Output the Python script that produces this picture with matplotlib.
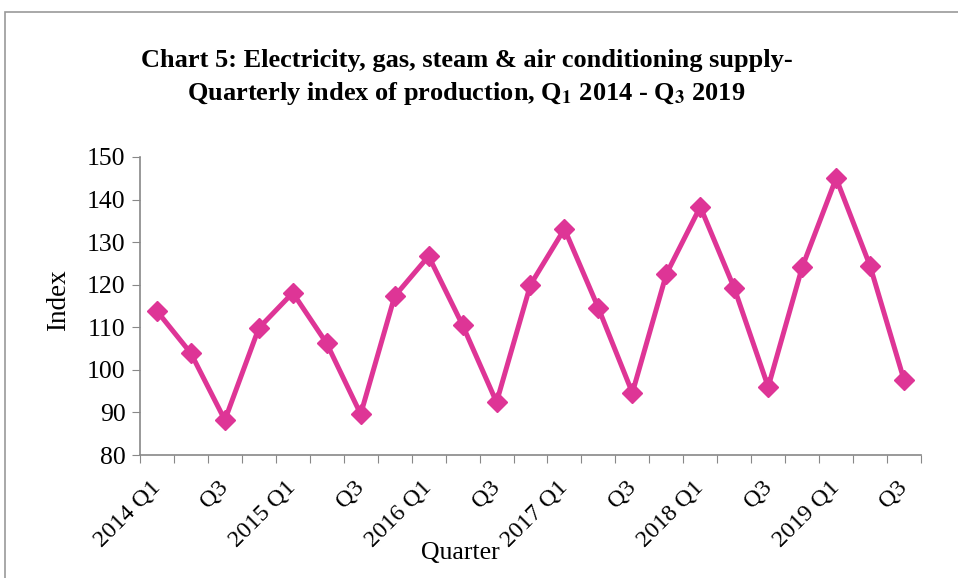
import matplotlib
matplotlib.use('Agg')
import matplotlib.pyplot as plt
from matplotlib.patches import Rectangle
import numpy as np

plt.rcParams['font.family'] = ['Liberation Serif', 'DejaVu Serif']
plt.rcParams['mathtext.fontset'] = 'stix'

# quarterly index values, 2014 Q1 .. 2019 Q3
years = [2014, 2015, 2016, 2017, 2018, 2019]
quarters = ['Q1', 'Q2', 'Q3', 'Q4']
index_values = [113.8, 103.9, 88.2, 109.8,
                118.1, 106.2, 89.6, 117.3,
                126.7, 110.5, 92.4, 120.0,
                133.1, 114.5, 94.6, 122.5,
                138.3, 119.2, 96.0, 124.1,
                145.0, 124.4, 97.6]

# tick labels: year + Q1 at first quarter, Q3 alone, others blank
tick_labels = []
for y in years:
    for q in quarters:
        if len(tick_labels) == len(index_values):
            break
        if q == 'Q1':
            tick_labels.append(f'{y} Q1')
        elif q == 'Q3':
            tick_labels.append('Q3')
        else:
            tick_labels.append('')

fig = plt.figure(figsize=(9.58, 5.78), dpi=100)
ax = fig.add_axes([0.1461, 0.2128, 0.8153, 0.5156])

x = np.arange(len(index_values))
ax.plot(x, index_values, color='#DE3596', linewidth=3.6,
        marker='D', markersize=10, markerfacecolor='#DE3596', markeredgecolor='#DE3596')

ax.set_ylim(80, 150)
ax.set_yticks(np.arange(80, 151, 10))
ax.set_xlim(-0.5, len(index_values) - 0.5)

# category boundary ticks (Excel style), labels at centres
ax.set_xticks(np.arange(-0.5, len(index_values) + 0.5, 1))
ax.set_xticklabels([])
ax.set_xticks(x, minor=True)
ax.set_xticklabels(tick_labels, minor=True, rotation=45, ha='right', va='center',
                   rotation_mode='anchor', fontsize=17.5)
ax.tick_params(axis='x', which='minor', length=0, pad=21)
ax.tick_params(axis='x', which='major', length=6, color='#888888', direction='out')
ax.tick_params(axis='y', length=6, color='#888888', labelsize=18.5, pad=4.5)

for s in ['top', 'right']:
    ax.spines[s].set_visible(False)
for s in ['left', 'bottom']:
    ax.spines[s].set_color('#888888')
    ax.spines[s].set_linewidth(1.2)

fig.text(0.061, 0.481, 'Index', rotation=90, ha='center', va='center', fontsize=19.5)
fig.text(0.481, 0.043, 'Quarter', ha='center', va='center', fontsize=18.5)

fig.text(0.487, 0.896, 'Chart 5: Electricity, gas, steam & air conditioning supply-',
         ha='center', va='center', fontsize=19, fontweight='bold')
fig.text(0.487, 0.838, r'Quarterly index of production, Q$_\mathbf{1}$ 2014 - Q$_\mathbf{3}$ 2019',
         ha='center', va='center', fontsize=19, fontweight='bold')

# outer frame
fig.patches.append(Rectangle((5 / 958, -0.1), 1.2, 1 - 12 / 578 + 0.1,
                             transform=fig.transFigure, fill=False,
                             edgecolor='#999999', linewidth=1.2))

fig.savefig('out.png', dpi=100)
